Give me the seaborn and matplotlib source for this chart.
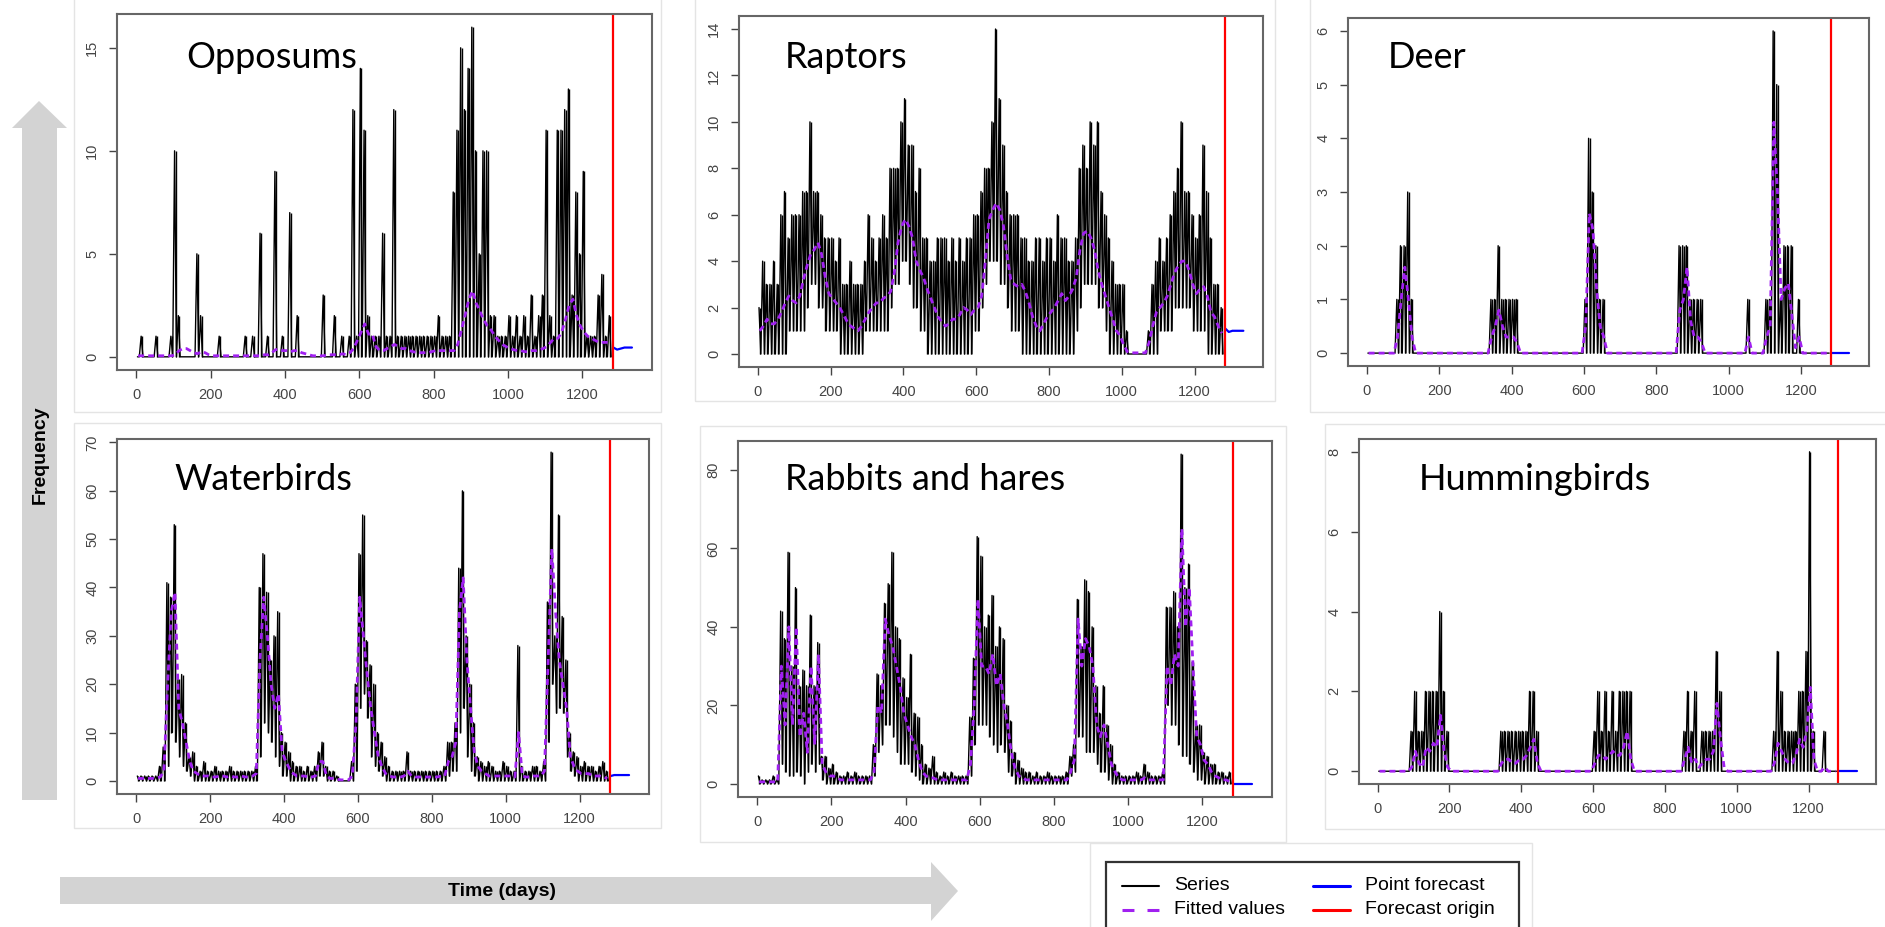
import numpy as np
import pandas as pd
import seaborn as sns
import matplotlib.pyplot as plt
from matplotlib.lines import Line2D
from matplotlib.patches import Polygon, Rectangle

# 10-day bins (start day of each bin), series max / min per bin and fitted values
bin_start = np.arange(0, 1280, 10)
origin_day = 1283
fc_days = [1284, 1294, 1304, 1314, 1324, 1334]

names = ['Opposums', 'Raptors', 'Deer', 'Waterbirds', 'Rabbits and hares', 'Hummingbirds']

opp_hi = [0, 1, 0, 0, 0, 1, 0, 0, 0, 1,
          10, 2, 0, 0, 0, 0, 5, 2, 0, 0,
          0, 0, 1, 0, 0, 0, 0, 0, 0, 1,
          0, 1, 0, 6, 0, 1, 0, 9, 0, 1,
          0, 7, 0, 2, 0, 0, 0, 0, 0, 0,
          3, 0, 0, 2, 0, 1, 0, 1, 12, 1,
          14, 11, 2, 1, 1, 1, 6, 1, 1, 12,
          1, 1, 1, 1, 1, 1, 1, 1, 1, 1,
          1, 2, 1, 1, 1, 8, 11, 15, 12, 14,
          16, 10, 5, 10, 10, 2, 2, 1, 1, 1,
          2, 1, 2, 1, 2, 1, 3, 1, 2, 3,
          11, 2, 1, 11, 11, 12, 13, 3, 8, 5,
          9, 1, 1, 1, 3, 4, 1, 2]
opp_lo = [0] * 128
opp_fit = [0.05, 0.05, 0.05, 0.05, 0.05, 0.05, 0.05, 0.05, 0.05, 0.05,
           0.1, 0.3, 0.4, 0.4, 0.3, 0.2, 0.15, 0.25, 0.2, 0.1,
           0.05, 0.05, 0.05, 0.05, 0.05, 0.05, 0.05, 0.05, 0.05, 0.05,
           0.05, 0.05, 0.05, 0.05, 0.1, 0.1, 0.2, 0.35, 0.35, 0.3,
           0.3, 0.25, 0.3, 0.3, 0.2, 0.15, 0.1, 0.05, 0.05, 0.05,
           0.05, 0.1, 0.1, 0.1, 0.1, 0.15, 0.1, 0.2, 0.4, 0.8,
           1.2, 1.6, 1.1, 1.1, 0.5, 0.3, 0.3, 0.4, 0.5, 0.6,
           0.5, 0.4, 0.4, 0.3, 0.25, 0.2, 0.2, 0.2, 0.2, 0.25,
           0.3, 0.3, 0.3, 0.3, 0.3, 0.3, 0.6, 1.3, 2.0, 2.8,
           3.2, 2.6, 2.2, 1.8, 1.5, 1.3, 1.0, 0.8, 0.6, 0.5,
           0.4, 0.35, 0.3, 0.3, 0.25, 0.25, 0.3, 0.3, 0.35, 0.4,
           0.5, 0.7, 0.9, 0.9, 1.2, 1.8, 2.5, 2.8, 2.0, 1.5,
           1.2, 1.0, 0.9, 0.8, 0.7, 0.7, 0.7, 0.7]
opp_fc = [0.45, 0.35, 0.4, 0.45, 0.45, 0.45]

rap_hi = [2, 4, 3, 3, 4, 3, 6, 7, 5, 6,
          6, 6, 7, 7, 10, 7, 7, 6, 5, 5,
          5, 4, 5, 3, 3, 4, 3, 3, 3, 4,
          6, 5, 4, 5, 6, 5, 8, 8, 8, 10,
          11, 9, 9, 7, 8, 5, 5, 4, 4, 5,
          5, 5, 4, 5, 4, 5, 4, 5, 5, 6,
          6, 7, 8, 8, 10, 14, 11, 9, 7, 6,
          6, 6, 5, 5, 4, 4, 5, 5, 4, 5,
          5, 4, 6, 5, 5, 4, 4, 5, 8, 9,
          8, 10, 9, 10, 7, 6, 5, 4, 3, 3,
          3, 1, 0, 0, 0, 0, 0, 1, 3, 4,
          5, 4, 5, 6, 7, 8, 10, 7, 7, 6,
          5, 6, 9, 7, 5, 3, 3, 2]
rap_lo = [0, 0, 0, 0, 0, 0, 0, 0, 1, 1,
          1, 1, 1, 2, 3, 3, 2, 2, 1, 1,
          1, 1, 0, 0, 0, 0, 0, 0, 0, 1,
          1, 1, 1, 1, 1, 1, 2, 3, 3, 4,
          4, 3, 2, 2, 1, 1, 0, 0, 0, 0,
          0, 0, 0, 0, 0, 0, 0, 0, 0, 1,
          1, 2, 3, 4, 4, 4, 3, 3, 2, 1,
          1, 1, 0, 0, 0, 0, 0, 0, 0, 0,
          0, 0, 0, 0, 0, 0, 0, 1, 2, 3,
          3, 3, 3, 2, 2, 1, 0, 0, 0, 0,
          0, 0, 0, 0, 0, 0, 0, 0, 0, 0,
          1, 1, 1, 1, 2, 2, 2, 2, 2, 1,
          1, 1, 1, 0, 0, 0, 0, 0]
rap_fit = [1.0, 1.2, 1.5, 1.3, 1.3, 1.5, 1.8, 2.2, 2.5, 2.3,
           2.2, 2.5, 3.2, 3.8, 4.3, 4.5, 4.8, 4.3, 3.3, 2.6,
           2.4, 2.2, 2.0, 1.7, 1.4, 1.2, 1.1, 1.0, 1.2, 1.5,
           1.8, 2.0, 2.2, 2.2, 2.4, 2.5, 2.7, 3.5, 4.8, 5.5,
           5.8, 5.5, 5.0, 4.0, 3.6, 3.3, 2.8, 2.4, 2.0, 1.6,
           1.4, 1.2, 1.3, 1.5, 1.5, 1.7, 2.0, 1.9, 1.7, 1.9,
           2.0, 2.5, 4.0, 5.8, 6.2, 6.5, 6.2, 5.5, 4.2, 3.2,
           3.0, 2.9, 3.0, 2.7, 2.2, 1.6, 1.2, 1.0, 1.3, 1.6,
           1.8, 2.0, 2.3, 2.6, 2.3, 2.5, 2.8, 3.3, 4.5, 5.2,
           5.3, 5.0, 4.5, 3.6, 3.0, 2.5, 2.0, 1.5, 1.0, 0.8,
           0.4, 0.1, 0.05, 0.05, 0.05, 0.05, 0.05, 0.5, 1.2, 1.8,
           2.0, 2.2, 2.5, 3.0, 3.5, 3.8, 4.0, 4.0, 3.6, 3.0,
           2.6, 2.8, 2.9, 2.5, 1.8, 1.6, 1.2, 0.9]
rap_fc = [1.1, 0.95, 1.0, 1.0, 1.0, 1.0]

deer_hi = [0, 0, 0, 0, 0, 0, 0, 0, 1, 2,
           2, 3, 1, 0, 0, 0, 0, 0, 0, 0,
           0, 0, 0, 0, 0, 0, 0, 0, 0, 0,
           0, 0, 0, 0, 1, 1, 2, 1, 1, 1,
           1, 1, 0, 0, 0, 0, 0, 0, 0, 0,
           0, 0, 0, 0, 0, 0, 0, 0, 0, 0,
           1, 4, 3, 2, 1, 1, 0, 0, 0, 0,
           0, 0, 0, 0, 0, 0, 0, 0, 0, 0,
           0, 0, 0, 0, 0, 0, 2, 2, 2, 1,
           1, 1, 1, 0, 0, 0, 0, 0, 0, 0,
           0, 0, 0, 0, 0, 1, 0, 0, 0, 0,
           1, 1, 6, 5, 1, 2, 2, 2, 0, 1,
           0, 0, 0, 0, 0, 0, 0, 0]
deer_lo = [0] * 128
deer_fit = [0, 0, 0, 0, 0, 0, 0, 0, 0.3, 1.0,
            1.6, 1.0, 0.3, 0, 0, 0, 0, 0, 0, 0,
            0, 0, 0, 0, 0, 0, 0, 0, 0, 0,
            0, 0, 0, 0, 0.3, 0.5, 0.8, 0.5, 0.3, 0.3,
            0.3, 0.2, 0, 0, 0, 0, 0, 0, 0, 0,
            0, 0, 0, 0, 0, 0, 0, 0, 0, 0,
            0.5, 2.6, 2.3, 1.2, 0.5, 0.3, 0, 0, 0, 0,
            0, 0, 0, 0, 0, 0, 0, 0, 0, 0,
            0, 0, 0, 0, 0, 0, 0.8, 1.0, 1.6, 0.6,
            0.3, 0.3, 0.2, 0, 0, 0, 0, 0, 0, 0,
            0, 0, 0, 0, 0, 0.3, 0, 0, 0, 0,
            0.3, 0.5, 4.3, 3.0, 1.0, 1.2, 1.3, 0.7, 0.1, 0.3,
            0, 0, 0, 0, 0, 0, 0, 0]
deer_fc = [0, 0, 0, 0, 0, 0]

wat_hi = [1, 1, 1, 1, 1, 1, 3, 7, 41, 38,
          53, 21, 22, 12, 5, 6, 3, 2, 4, 2,
          2, 3, 2, 2, 2, 3, 2, 2, 2, 2,
          2, 2, 3, 40, 47, 39, 25, 30, 35, 10,
          8, 6, 4, 3, 3, 2, 3, 2, 3, 6,
          8, 3, 2, 2, 1, 0, 0, 0, 4, 20,
          47, 55, 29, 24, 20, 10, 8, 5, 3, 2,
          2, 2, 2, 6, 2, 2, 2, 2, 2, 2,
          2, 2, 2, 3, 8, 8, 12, 44, 60, 30,
          20, 12, 5, 4, 3, 4, 3, 2, 2, 4,
          3, 2, 2, 28, 3, 2, 2, 3, 3, 2,
          4, 37, 68, 30, 55, 34, 25, 10, 6, 5,
          3, 4, 3, 3, 2, 3, 4, 2]
wat_lo = [0, 0, 0, 0, 0, 0, 0, 0, 3, 10,
          8, 5, 3, 2, 1, 0, 0, 0, 0, 0,
          0, 0, 0, 0, 0, 0, 0, 0, 0, 0,
          0, 0, 0, 5, 12, 10, 8, 5, 3, 1,
          1, 0, 0, 0, 0, 0, 0, 0, 0, 1,
          1, 0, 0, 0, 0, 0, 0, 0, 0, 2,
          15, 18, 13, 5, 3, 2, 1, 0, 0, 0,
          0, 0, 0, 0, 0, 0, 0, 0, 0, 0,
          0, 0, 0, 0, 1, 2, 2, 10, 15, 5,
          2, 1, 0, 0, 0, 0, 0, 0, 0, 0,
          0, 0, 0, 0, 0, 0, 0, 0, 0, 0,
          0, 8, 20, 14, 15, 14, 5, 2, 1, 0,
          0, 0, 0, 0, 0, 0, 0, 0]
wat_fit = [0.5, 0.5, 0.5, 0.5, 0.5, 0.6, 0.8, 2, 20, 35,
           39, 15, 12, 8, 4, 2, 1.5, 1, 1, 1,
           0.8, 0.8, 1, 1, 0.8, 1, 0.8, 0.8, 1, 0.8,
           0.8, 1, 1.5, 25, 38, 30, 20, 15, 18, 6,
           4, 2.5, 1.5, 1, 1, 1, 0.8, 0.8, 1, 4,
           4, 1, 0.5, 0.5, 0.3, 0.2, 0.2, 0.2, 1, 12,
           38, 30, 22, 15, 10, 5, 3, 1.5, 1, 0.8,
           0.8, 0.8, 1, 2, 1, 0.8, 0.8, 0.8, 0.8, 0.8,
           0.8, 0.8, 1, 1, 4, 5, 8, 35, 42, 25,
           15, 6, 3, 2, 1.5, 1, 1, 1, 1, 1,
           1, 1, 0.8, 10, 1, 0.8, 0.8, 1, 1, 1,
           2, 25, 48, 35, 25, 20, 15, 5, 3, 2,
           1.5, 1.5, 1.5, 1, 1, 1, 0.8, 0.5]
wat_fc = [1.0, 1.2, 1.2, 1.2, 1.2, 1.2]

rab_hi = [2, 1, 1, 1, 2, 1, 44, 37, 59, 30,
          50, 25, 29, 25, 43, 25, 36, 7, 7, 4,
          5, 3, 2, 2, 3, 2, 3, 2, 2, 2,
          2, 10, 28, 25, 46, 51, 59, 40, 37, 27,
          22, 33, 18, 17, 10, 5, 4, 7, 3, 2,
          3, 2, 3, 2, 2, 2, 2, 17, 32, 63,
          58, 40, 43, 48, 35, 40, 37, 20, 16, 8,
          6, 4, 3, 3, 2, 3, 2, 2, 3, 2,
          2, 2, 2, 3, 7, 10, 47, 35, 52, 49,
          40, 25, 18, 25, 15, 10, 5, 3, 2, 2,
          2, 2, 3, 2, 5, 3, 2, 2, 2, 3,
          45, 45, 49, 40, 84, 50, 56, 31, 15, 15,
          8, 7, 5, 5, 3, 3, 2, 3]
rab_lo = [0, 0, 0, 0, 0, 0, 5, 3, 2, 2,
          3, 2, 0, 3, 5, 3, 5, 1, 0, 0,
          0, 0, 0, 0, 0, 0, 0, 0, 0, 0,
          0, 2, 8, 10, 15, 15, 12, 8, 5, 5,
          5, 3, 2, 1, 0, 0, 0, 0, 0, 0,
          0, 0, 0, 0, 0, 0, 0, 2, 10, 15,
          15, 15, 12, 10, 8, 10, 8, 3, 2, 0,
          0, 0, 0, 0, 0, 0, 0, 0, 0, 0,
          0, 0, 0, 0, 2, 3, 12, 12, 8, 8,
          8, 5, 3, 3, 1, 0, 0, 0, 0, 0,
          0, 0, 0, 0, 0, 0, 0, 0, 0, 0,
          20, 15, 15, 10, 7, 7, 5, 3, 1, 1,
          0, 0, 0, 0, 0, 0, 0, 0]
rab_fit = [0.5, 0.5, 0.5, 0.5, 0.5, 0.5, 30, 15, 40, 15,
           40, 12, 18, 8, 30, 10, 33, 5, 3, 2,
           2, 1.5, 1, 1, 1, 1, 1, 1, 1, 1,
           1, 3, 20, 18, 42, 38, 35, 30, 25, 18,
           15, 12, 10, 6, 3, 2, 1.5, 1.5, 1, 1,
           1, 1, 1, 1, 1, 1, 1, 5, 20, 47,
           30, 30, 28, 33, 25, 28, 20, 15, 8, 4,
           2, 1.5, 1, 1, 1, 1, 1, 1, 1, 1,
           1, 1, 1, 1, 3, 6, 42, 30, 37, 35,
           30, 15, 12, 15, 10, 5, 3, 1.5, 1, 1,
           1, 1, 1, 1, 1.5, 1, 1, 1, 1, 1,
           30, 25, 33, 30, 65, 40, 50, 30, 12, 10,
           6, 5, 3, 2, 1.5, 1, 1, 0.5]
rab_fc = [0, 0, 0, 0, 0, 0]

hum_hi = [0, 0, 0, 0, 0, 0, 0, 0, 0, 1,
          2, 1, 1, 2, 2, 2, 2, 4, 2, 1,
          0, 0, 0, 0, 0, 0, 0, 0, 0, 0,
          0, 0, 0, 0, 1, 1, 1, 1, 1, 1,
          1, 1, 2, 2, 1, 0, 0, 0, 0, 0,
          0, 0, 0, 0, 0, 0, 0, 0, 0, 0,
          1, 2, 1, 2, 1, 2, 1, 2, 2, 2,
          2, 0, 0, 0, 0, 0, 0, 0, 0, 0,
          0, 0, 0, 0, 0, 1, 2, 1, 2, 0,
          1, 1, 1, 1, 3, 2, 0, 0, 0, 0,
          0, 0, 0, 0, 0, 0, 0, 0, 0, 0,
          1, 3, 2, 1, 1, 1, 1, 2, 2, 3,
          8, 1, 0, 0, 1, 0, 0, 0]
hum_lo = [0] * 128
hum_fit = [0, 0, 0, 0, 0, 0, 0, 0, 0, 0.1,
           0.5, 0.2, 0.1, 0.6, 0.5, 0.7, 0.6, 1.4, 0.5, 0.1,
           0, 0, 0, 0, 0, 0, 0, 0, 0, 0,
           0, 0, 0, 0, 0.2, 0.3, 0.3, 0.2, 0.2, 0.3,
           0.3, 0.4, 0.6, 0.8, 0.2, 0, 0, 0, 0, 0,
           0, 0, 0, 0, 0, 0, 0, 0, 0, 0,
           0.2, 0.4, 0.4, 0.3, 0.4, 0.5, 0.4, 0.4, 0.6, 1.0,
           0.3, 0, 0, 0, 0, 0, 0, 0, 0, 0,
           0, 0, 0, 0, 0, 0.3, 0.6, 0.2, 0.3, 0.1,
           0.2, 0.3, 0.3, 0.5, 1.7, 0.8, 0.1, 0, 0, 0,
           0, 0, 0, 0, 0, 0, 0, 0, 0, 0,
           0.2, 0.7, 0.5, 0.3, 0.2, 0.2, 0.4, 0.8, 0.6, 1.0,
           2.1, 0.3, 0, 0, 0.1, 0, 0, 0]
hum_fc = [0, 0, 0, 0, 0, 0]

panels = [
    (opp_hi, opp_lo, opp_fit, opp_fc, [0, 5, 10, 15]),
    (rap_hi, rap_lo, rap_fit, rap_fc, list(range(0, 15, 2))),
    (deer_hi, deer_lo, deer_fit, deer_fc, list(range(0, 7))),
    (wat_hi, wat_lo, wat_fit, wat_fc, list(range(0, 71, 10))),
    (rab_hi, rab_lo, rab_fit, rab_fc, list(range(0, 81, 20))),
    (hum_hi, hum_lo, hum_fit, hum_fc, list(range(0, 9, 2))),
]

# layout in pixels of the 1885x927 canvas
W, H = 1885, 927
boxes = [(117, 14, 652, 370), (739, 16, 1263, 367), (1348, 18, 1869, 366),
         (117, 439, 649, 794), (738, 441, 1272, 797), (1359, 439, 1876, 784)]
frames = [(74, -2, 661, 412), (695, -2, 1275, 401), (1310, -2, 1890, 412),
          (74, 423, 661, 828), (700, 426, 1286, 842), (1325, 424, 1890, 829),
          (1090, 843, 1532, 940)]
title_pos = [(186, 68), (785, 68), (1388, 68), (174, 490), (785, 490), (1419, 490)]

sns.set_theme(style='white')
plt.rcParams['font.family'] = ['Liberation Sans', 'DejaVu Sans']
plt.rcParams['lines.scale_dashes'] = False

fig = plt.figure(figsize=(W / 100, H / 100), dpi=100)
fig.patch.set_facecolor('white')


def fx(x):
    return x / W


def fy(y):
    return 1 - y / H


for (x0, y0, x1, y1) in frames:
    fig.add_artist(Rectangle((fx(x0), fy(y1)), (x1 - x0) / W, (y1 - y0) / H,
                             transform=fig.transFigure, fill=False,
                             ec='#e4e4e4', lw=1.0))

for k, (hi, lo, fit, fc, yt) in enumerate(panels):
    x0, y0, x1, y1 = boxes[k]
    ax = fig.add_axes([fx(x0), fy(y1), (x1 - x0) / W, (y1 - y0) / H])

    # series: daily counts swing between the bin max and min
    sx = np.ravel(np.column_stack([bin_start + 3, bin_start + 8]))
    sy = np.ravel(np.column_stack([hi, lo]))
    df = pd.DataFrame({'day': sx, 'freq': sy})
    sns.lineplot(data=df, x='day', y='freq', ax=ax, color='black', lw=1.0)
    # range of each bin as a vertical stroke
    ax.vlines(bin_start + 5.5, lo, hi, color='black', lw=1.0)

    fdf = pd.DataFrame({'day': bin_start + 5, 'fit': fit})
    sns.lineplot(data=fdf, x='day', y='fit', ax=ax, color='#a020f0', lw=2.0)
    ax.lines[-1].set_dashes([4.3, 2.9])

    pdf = pd.DataFrame({'day': fc_days, 'fc': fc})
    sns.lineplot(data=pdf, x='day', y='fc', ax=ax, color='#0000ff', lw=1.6)

    ax.axvline(origin_day, color='#ff0000', lw=1.6)

    ymax = max(hi)
    ax.set_xlim(-52, 1388)
    ax.set_ylim(-0.04 * ymax, 1.04 * ymax)
    ax.set_xticks(range(0, 1201, 200))
    ax.set_yticks(yt)
    ax.set_xlabel('')
    ax.set_ylabel('')
    ax.tick_params(bottom=True, left=True, direction='out', length=5.8,
                   width=1, colors='#444444', labelsize=10.5, pad=7)
    for lab in ax.get_yticklabels():
        lab.set_rotation(90)
        lab.set_va('center')
    for sp in ax.spines.values():
        sp.set_color('#666666')
        sp.set_linewidth(1.5)

    tx, ty = title_pos[k]
    fig.text(fx(tx), fy(ty), names[k], fontsize=26, family=['Lato', 'DejaVu Sans'],
             va='baseline', ha='left', color='black')

# grey arrows
arrow_col = '#d3d3d3'
v_arrow = [(22, 800), (22, 128), (12, 128), (39, 101), (67, 128), (57, 128), (57, 800)]
fig.add_artist(Polygon([(fx(a), fy(b)) for a, b in v_arrow], closed=True,
                       transform=fig.transFigure, fc=arrow_col, ec='none'))
fig.text(fx(40), fy(455), 'Frequency', rotation=90, ha='center', va='center',
         fontsize=14, fontweight='bold', color='black')

h_arrow = [(60, 877), (931, 877), (931, 862), (958, 891), (931, 921), (931, 904), (60, 904)]
fig.add_artist(Polygon([(fx(a), fy(b)) for a, b in h_arrow], closed=True,
                       transform=fig.transFigure, fc=arrow_col, ec='none'))
fig.text(fx(502), fy(892), 'Time (days)', ha='center', va='center',
         fontsize=14, fontweight='bold', color='black')

# legend box
fig.add_artist(Rectangle((fx(1106), fy(940)), (1519 - 1106) / W, (940 - 862) / H,
                         transform=fig.transFigure, fill=True, fc='white',
                         ec='#333333', lw=1.6))
leg_items = [('Series', 'black', '-', 1122, 886), ('Fitted values', '#a020f0', '--', 1122, 910),
             ('Point forecast', '#0000ff', '-', 1313, 886), ('Forecast origin', '#ff0000', '-', 1313, 910)]
for label, col, ls, lx, ly in leg_items:
    ln = Line2D([fx(lx), fx(lx + 37)], [fy(ly), fy(ly)], transform=fig.transFigure,
                color=col, lw=2.2 if col != 'black' else 1.5)
    if ls == '--':
        ln.set_dashes([8.6, 9.4])
    fig.add_artist(ln)
    fig.text(fx(lx + 52), fy(ly), label, ha='left', va='center', fontsize=14, color='black')

fig.savefig('out.png', dpi=100)
